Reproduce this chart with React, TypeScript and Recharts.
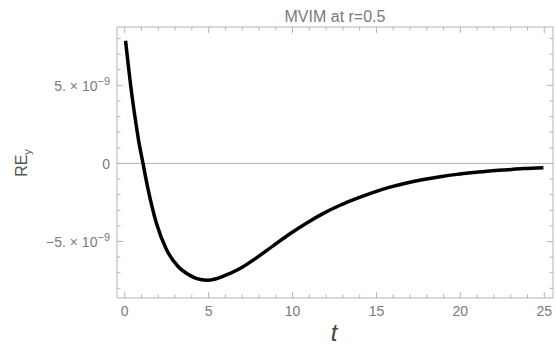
import { Line, LineChart, ReferenceLine, XAxis, YAxis } from "recharts"

// time samples
const T = [
  0.05, 0.2, 0.36, 0.5, 0.67, 0.83, 1.09, 1.39, 1.88, 2.48, 3.18, 3.89, 4.3,
  4.89, 5.4, 5.88, 6.87, 7.87, 8.86, 9.85, 10.85, 11.84, 12.83, 13.83, 14.82,
  15.81, 16.8, 17.8, 18.8, 19.79, 20.8, 21.77, 22.8, 23.75, 24.95,
]

// RE_y in units of 1e-9
const RE_Y = [
  7.86, 6.4, 4.95, 3.8, 2.55, 1.45, 0.0, -1.65, -3.8, -5.5, -6.6, -7.17, -7.38,
  -7.48, -7.4, -7.22, -6.73, -6.03, -5.26, -4.5, -3.81, -3.2, -2.68, -2.24,
  -1.85, -1.52, -1.25, -1.03, -0.85, -0.7, -0.58, -0.48, -0.4, -0.33, -0.27,
]

const X_TICKS = [
  0, 1, 2, 3, 4, 5, 6, 7, 8, 9, 10, 11, 12, 13, 14, 15, 16, 17, 18, 19, 20, 21,
  22, 23, 24, 25,
]
const X_LABELS = [0, 5, 10, 15, 20, 25]
const Y_TICKS = [-8, -7, -6, -5, -4, -3, -2, -1, 0, 1, 2, 3, 4, 5, 6, 7, 8]
const Y_LABELS = [-5, 0, 5]

const FRAME = "#b4b4b4"
const LABEL = "#7a7a7a"
const FONT = "'Liberation Sans', Arial, sans-serif"

const data = T.map((t, i) => ({ t, v: RE_Y[i] }))

type TickProps = { x: number; y: number; payload: { value: number } }

function BottomTick({ x, y, payload }: TickProps) {
  const major = X_LABELS.includes(payload.value)
  return (
    <g>
      <line x1={x} x2={x} y1={y} y2={y - (major ? 6 : 3.5)} stroke={FRAME} />
      {major && (
        <text x={x} y={y + 17.5} textAnchor="middle" fontSize={14} fill={LABEL} fontFamily={FONT}>
          {payload.value}
        </text>
      )}
    </g>
  )
}

function TopTick({ x, y, payload }: TickProps) {
  const major = X_LABELS.includes(payload.value)
  return <line x1={x} x2={x} y1={y} y2={y + (major ? 6 : 3.5)} stroke={FRAME} />
}

function LeftTick({ x, y, payload }: TickProps) {
  const v = payload.value
  const major = Y_LABELS.includes(v)
  return (
    <g>
      <line x1={x} x2={x + (major ? 6 : 3.5)} y1={y} y2={y} stroke={FRAME} />
      {major && (
        <text x={x - 7} y={y + 5.5} textAnchor="end" fontSize={14} fill={LABEL} fontFamily={FONT}>
          {v === 0 ? (
            "0"
          ) : (
            <>
              <tspan>{(v < 0 ? "\u2212" : "") + Math.abs(v) + ". \u00d7 10"}</tspan>
              <tspan dy={-6} fontSize={11}>
                {"\u22129"}
              </tspan>
            </>
          )}
        </text>
      )}
    </g>
  )
}

function RightTick({ x, y, payload }: TickProps) {
  const major = Y_LABELS.includes(payload.value)
  return <line x1={x} x2={x - (major ? 6 : 3.5)} y1={y} y2={y} stroke={FRAME} />
}

export default function App() {
  return (
    <div
      style={{
        position: "absolute",
        left: 0,
        top: 0,
        width: 556,
        height: 345,
        background: "#fff",
        fontFamily: FONT,
      }}
    >
      <LineChart width={556} height={345} data={data} margin={{ top: 0, right: 0, bottom: 0, left: 0 }}>
        <XAxis
          xAxisId="bottom"
          dataKey="t"
          type="number"
          domain={[-0.46, 25.52]}
          ticks={X_TICKS}
          interval={0}
          height={47}
          tickSize={0}
          tickMargin={0}
          tickLine={false}
          axisLine={{ stroke: FRAME }}
          tick={BottomTick as any}
          allowDataOverflow
        />
        <XAxis
          xAxisId="top"
          orientation="top"
          dataKey="t"
          type="number"
          domain={[-0.46, 25.52]}
          ticks={X_TICKS}
          interval={0}
          height={27}
          tickSize={0}
          tickMargin={0}
          tickLine={false}
          axisLine={{ stroke: FRAME }}
          tick={TopTick as any}
          allowDataOverflow
        />
        <YAxis
          yAxisId="left"
          type="number"
          domain={[-8.62, 8.74]}
          ticks={Y_TICKS}
          interval={0}
          width={117}
          tickSize={0}
          tickMargin={0}
          tickLine={false}
          axisLine={{ stroke: FRAME }}
          tick={LeftTick as any}
          allowDataOverflow
        />
        <YAxis
          yAxisId="right"
          orientation="right"
          type="number"
          domain={[-8.62, 8.74]}
          ticks={Y_TICKS}
          interval={0}
          width={3}
          tickSize={0}
          tickMargin={0}
          tickLine={false}
          axisLine={{ stroke: FRAME }}
          tick={RightTick as any}
          allowDataOverflow
        />
        <ReferenceLine xAxisId="bottom" yAxisId="left" y={0} stroke={FRAME} strokeWidth={1} />
        <Line
          xAxisId="bottom"
          yAxisId="left"
          dataKey="v"
          type="monotone"
          stroke="#000"
          strokeWidth={3.5}
          dot={false}
          isAnimationActive={false}
        />
      </LineChart>
      <svg
        width={556}
        height={345}
        style={{ position: "absolute", left: 0, top: 0, pointerEvents: "none" }}
      >
        <text x={335} y={21.5} textAnchor="middle" fontSize={16} fill={LABEL} fontFamily={FONT}>
          MVIM at r=0.5
        </text>
        <text
          transform="translate(27, 163) rotate(-90)"
          textAnchor="middle"
          fontSize={16}
          fill="#555"
          fontFamily={FONT}
        >
          RE
          <tspan dy={4} fontSize={11}>
            y
          </tspan>
        </text>
        <text x={334} y={341} textAnchor="middle" fontSize={24} fontStyle="italic" fill="#444" fontFamily={FONT}>
          t
        </text>
      </svg>
    </div>
  )
}
